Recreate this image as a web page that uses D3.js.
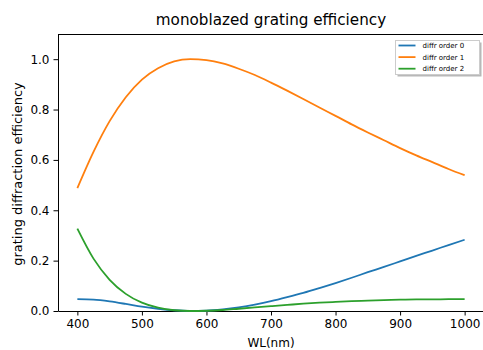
<!DOCTYPE html>
<meta charset="utf-8">
<script src="https://d3js.org/d3.v7.min.js"></script>
<style>
  body { margin: 0; background: #fff; }
  text { font-family: "DejaVu Sans", sans-serif; fill: #000; }
</style>
<div id="my_dataviz"></div>
<script>
// wavelengths (nm)
var wavelengths = [400, 425, 450, 475, 500, 525, 550, 575, 600, 625, 650, 675, 700,
                   725, 750, 775, 800, 825, 850, 875, 900, 925, 950, 975, 1000];
// efficiency per diffraction order
var order0 = [0.047, 0.045, 0.038, 0.028, 0.017, 0.009, 0.003, 0.000, 0.001, 0.006, 0.014, 0.025, 0.039,
              0.055, 0.072, 0.091, 0.111, 0.132, 0.154, 0.175, 0.197, 0.219, 0.240, 0.262, 0.283];
var order1 = [0.488, 0.632, 0.754, 0.849, 0.919, 0.964, 0.991, 1.000, 0.996, 0.983, 0.962, 0.937, 0.907,
              0.875, 0.842, 0.808, 0.775, 0.741, 0.709, 0.678, 0.647, 0.618, 0.591, 0.564, 0.539];
var order2 = [0.327, 0.208, 0.124, 0.068, 0.033, 0.013, 0.003, 0.000, 0.001, 0.004, 0.009, 0.014, 0.019,
              0.024, 0.029, 0.033, 0.036, 0.039, 0.041, 0.043, 0.045, 0.046, 0.046, 0.047, 0.047];
var seriesNames = ["diffr order 0", "diffr order 1", "diffr order 2"];
var colors = ["#1f77b4", "#ff7f0e", "#2ca02c"];
var xTicks = [400, 500, 600, 700, 800, 900, 1000];
var yTicks = [0.0, 0.2, 0.4, 0.6, 0.8, 1.0];

var W = 483, H = 350;
var margin = {top: 34, right: -1, bottom: 39, left: 58},
    width = W - margin.left - margin.right,
    height = H - margin.top - margin.bottom;

var root = d3.select("#my_dataviz").append("svg")
    .attr("width", W).attr("height", H);
var svg = root.append("g")
    .attr("transform", "translate(" + margin.left + "," + margin.top + ")");

var x = d3.scaleLinear().domain([370, 1030]).range([0, width]);
var y = d3.scaleLinear().domain([0, 1.1]).range([height, 0]);

// axes
var xAxis = svg.append("g")
    .attr("transform", "translate(0," + height + ")")
    .call(d3.axisBottom(x).tickValues(xTicks).tickSize(4.5).tickPadding(4).tickSizeOuter(0)
          .tickFormat(d3.format("d")));
var yAxis = svg.append("g")
    .call(d3.axisLeft(y).tickValues(yTicks).tickSize(4.5).tickPadding(4).tickSizeOuter(0)
          .tickFormat(d3.format(".1f")));
svg.selectAll(".tick text").style("font-size", "12px").style("font-family", "DejaVu Sans");
svg.selectAll(".domain, .tick line").attr("stroke", "#000").attr("stroke-width", 1);

// frame (top and right spines)
svg.append("line").attr("x1", 0).attr("x2", width).attr("y1", 0.5).attr("y2", 0.5)
    .attr("stroke", "#000");
svg.append("line").attr("x1", width - 0.5).attr("x2", width - 0.5).attr("y1", 0).attr("y2", height)
    .attr("stroke", "#000");

// lines
var line = d3.line()
    .x(function(d) { return x(d[0]); })
    .y(function(d) { return y(d[1]); })
    .curve(d3.curveMonotoneX);

[order0, order1, order2].forEach(function(vals, i) {
  svg.append("path")
    .datum(wavelengths.map(function(w, j) { return [w, vals[j]]; }))
    .attr("fill", "none")
    .attr("stroke", colors[i])
    .attr("stroke-width", 1.8)
    .attr("d", line);
});

// title and axis labels
root.append("text").attr("x", margin.left + x(700)).attr("y", 25)
    .attr("text-anchor", "middle").style("font-size", "15.2px")
    .text("monoblazed grating efficiency");
root.append("text").attr("x", margin.left + x(700)).attr("y", 347)
    .attr("text-anchor", "middle").style("font-size", "12px")
    .text("WL(nm)");
root.append("text")
    .attr("transform", "translate(21.5,174) rotate(-90)")
    .attr("text-anchor", "middle").style("font-size", "13px")
    .text("grating diffraction efficiency");

// legend
var lg = root.append("g").attr("transform", "translate(395.5,40.5)");
lg.append("rect").attr("x", 2).attr("y", 2).attr("width", 84).attr("height", 34)
    .attr("fill", "#888").attr("opacity", 0.6);
lg.append("rect").attr("width", 84).attr("height", 34)
    .attr("fill", "#fff").attr("stroke", "#ccc").attr("stroke-width", 1);
seriesNames.forEach(function(name, i) {
  var yy = 5 + i * 11.6;
  lg.append("line").attr("x1", 3).attr("x2", 20).attr("y1", yy).attr("y2", yy)
    .attr("stroke", colors[i]).attr("stroke-width", 1.8);
  lg.append("text").attr("x", 27).attr("y", yy).attr("dy", "0.35em")
    .style("font-size", "7px").text(name);
});
</script>
